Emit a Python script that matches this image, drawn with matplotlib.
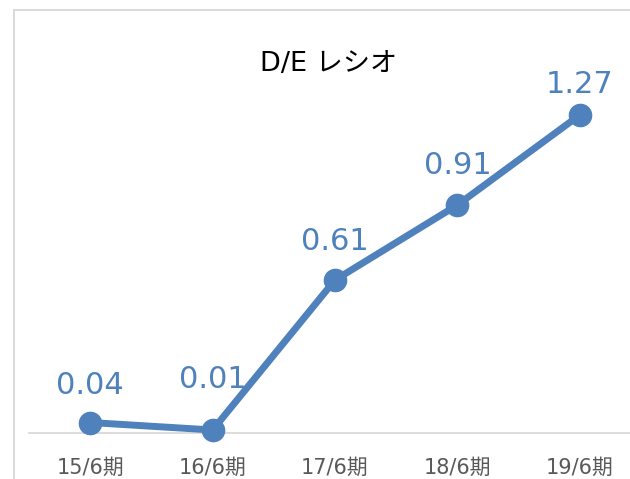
import matplotlib
matplotlib.use("Agg")
import matplotlib.pyplot as plt
from matplotlib.patches import Rectangle

periods = ["15/6期", "16/6期", "17/6期", "18/6期", "19/6期"]
de_ratio = [0.04, 0.01, 0.61, 0.91, 1.27]
# label distance above each point (points), as placed in the original
label_dy = [26.6, 36.7, 27.4, 28.8, 22.3]

blue = "#4F81BD"
fonts = ["DejaVu Sans", "Noto Sans CJK JP"]

W, H = 630, 479
fig = plt.figure(figsize=(W / 100, H / 100), dpi=100)

# chart area frame (only left/top visible, rest is cropped)
fig.patches.append(Rectangle((14 / W, -0.2), 2, 1.2 - 10 / H, transform=fig.transFigure,
                             fill=False, edgecolor="#D9D9D9", lw=1.4))

ax = fig.add_axes([29 / W, (H - 432.5) / H, 612 / W, 350 / H])
ax.patch.set_visible(False)

x = list(range(len(periods)))
ax.plot(x, de_ratio, color=blue, lw=5, marker="o", markersize=16,
        solid_capstyle="round", clip_on=False, zorder=3)

for xi, v, dy in zip(x, de_ratio, label_dy):
    ax.annotate(f"{v:.2f}", (xi, v), xytext=(0, dy), textcoords="offset points",
                ha="center", va="center", fontsize=22, color=blue, family=fonts)

ax.set_xlim(-0.5, len(periods) - 0.5)
ax.set_ylim(0, 1.4)
ax.set_yticks([])
ax.set_xticks(x)
ax.set_xticklabels(periods, family=fonts, fontsize=15, color="#595959")
ax.tick_params(axis="x", length=0, pad=18)
for s in ["top", "right", "left"]:
    ax.spines[s].set_visible(False)
ax.spines["bottom"].set_color("#D9D9D9")
ax.spines["bottom"].set_linewidth(1.3)

fig.text(329 / W, 1 - 64 / H, "D/E レシオ", ha="center", va="center",
         fontsize=19.5, color="black", family=fonts)

fig.savefig("out.png", dpi=100)
